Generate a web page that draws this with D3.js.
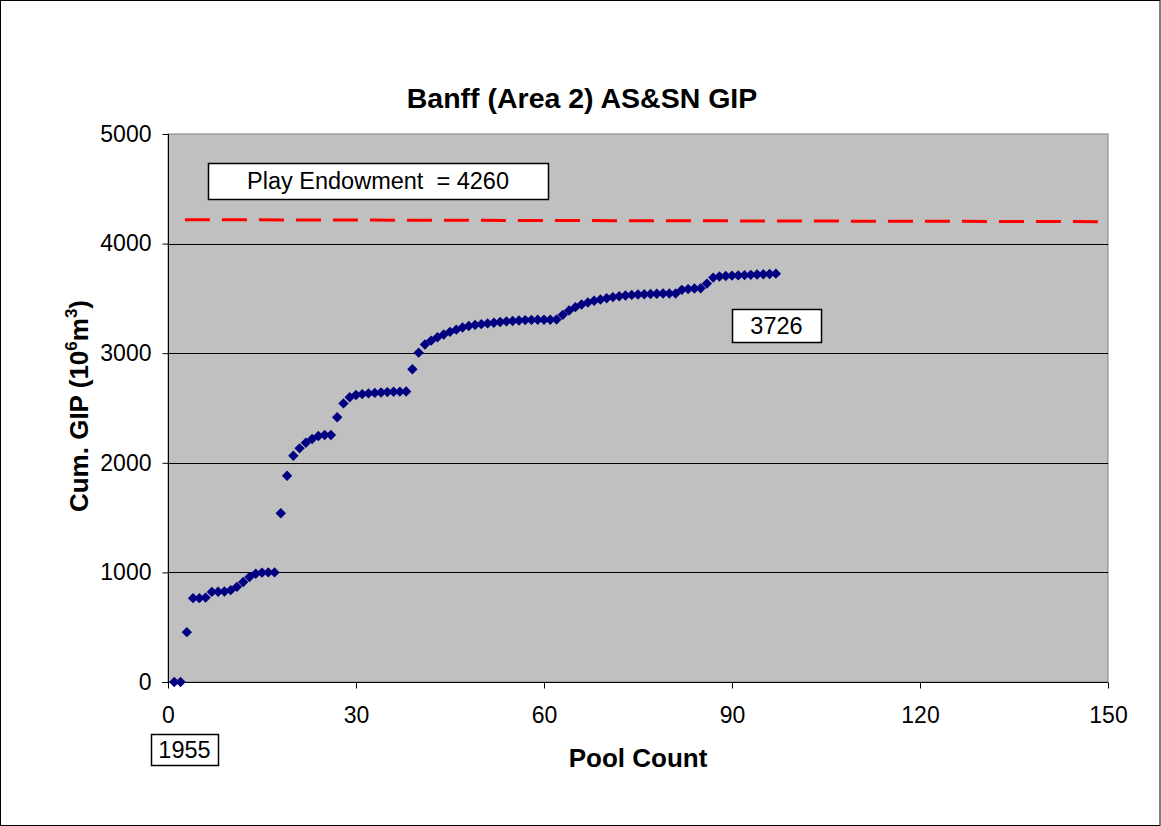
<!DOCTYPE html>
<html>
<head>
<meta charset="utf-8">
<script src="https://cdn.jsdelivr.net/npm/d3@7"></script>
<style>
  html, body { margin: 0; padding: 0; background: #fff; }
  svg text { font-family: "Liberation Sans", Arial, sans-serif; fill: #000; }
</style>
</head>
<body>
<div id="chart"></div>
<script>
const POOLS = d3.range(1, 98)
const CUM_GIP = [
  0, 0, 455, 765, 765, 770, 822, 824, 826, 838,
  868, 912, 958, 988, 998, 1000, 1000, 1540, 1882, 2064,
  2132, 2183, 2217, 2244, 2254, 2254, 2415, 2542, 2598, 2618,
  2627, 2633, 2638, 2642, 2645, 2648, 2649, 2650, 2853, 3005,
  3080, 3115, 3145, 3170, 3195, 3215, 3235, 3248, 3258, 3265,
  3272, 3278, 3284, 3290, 3294, 3298, 3302, 3304, 3305, 3305,
  3305, 3308, 3350, 3390, 3420, 3445, 3462, 3478, 3490, 3502,
  3512, 3520, 3527, 3532, 3536, 3538, 3540, 3542, 3545, 3545,
  3545, 3578, 3585, 3590, 3592, 3635, 3690, 3700, 3705, 3708,
  3710, 3712, 3715, 3718, 3720, 3723, 3726
]
const ENDOWMENT_X = [2.7, 149.5]
const ENDOWMENT_Y = [4218, 4200]
const X_TICKS = [0, 30, 60, 90, 120, 150]
const Y_TICKS = [0, 1000, 2000, 3000, 4000, 5000]

const W = 1161, H = 826
const plotLeft = 168, plotRight = 1108, plotTop = 134, plotBottom = 682

const svg = d3.select('#chart').append('svg')
  .attr('width', W).attr('height', H)

svg.append('rect')
  .attr('x', 0.5).attr('y', 0.5).attr('width', W - 1.5).attr('height', H - 1)
  .attr('fill', '#fff').attr('stroke', '#000')

const x = d3.scaleLinear().domain([0, 150]).range([plotLeft, plotRight])
const y = d3.scaleLinear().domain([0, 5000]).range([plotBottom, plotTop])

// plot area
svg.append('rect')
  .attr('x', plotLeft).attr('y', plotTop)
  .attr('width', plotRight - plotLeft).attr('height', plotBottom - plotTop)
  .attr('fill', '#c0c0c0').attr('stroke', '#808080')

// gridlines
svg.append('g')
  .selectAll('line')
  .data(Y_TICKS.filter((d) => d > 0 && d < 5000))
  .join('line')
  .attr('x1', plotLeft).attr('x2', plotRight)
  .attr('y1', (d) => Math.round(y(d)) + 0.5).attr('y2', (d) => Math.round(y(d)) + 0.5)
  .attr('stroke', '#000')

// axes
const yAxis = svg.append('g')
  .attr('transform', `translate(${plotLeft + 0.5},0)`)
  .call(d3.axisLeft(y).tickValues(Y_TICKS).tickSize(6).tickPadding(11).tickFormat(d3.format('d')))
const xAxis = svg.append('g')
  .attr('transform', `translate(0,${plotBottom + 0.5})`)
  .call(d3.axisBottom(x).tickValues(X_TICKS).tickSize(6).tickPadding(18).tickSizeOuter(0))
yAxis.select('.domain').attr('d', `M0,${plotTop}V${plotBottom}`).attr('stroke', '#000')
xAxis.select('.domain').attr('d', `M${plotLeft - 6},0H${plotRight}`).attr('stroke', '#000')
for (const g of [xAxis, yAxis]) {
  g.selectAll('text').style('font-size', '23px').attr('fill', '#000')
  g.selectAll('.tick line').attr('stroke', '#000')
}

// endowment dashed line
svg.append('line')
  .attr('x1', x(ENDOWMENT_X[0])).attr('y1', y(ENDOWMENT_Y[0]))
  .attr('x2', x(ENDOWMENT_X[1])).attr('y2', y(ENDOWMENT_Y[1]))
  .attr('stroke', '#ff0000').attr('stroke-width', 3)
  .attr('stroke-dasharray', '25 12')

// points
const r = 5.2
svg.append('g')
  .selectAll('path')
  .data(POOLS.map((p, i) => [p, CUM_GIP[i]]))
  .join('path')
  .attr('d', (d) => {
    const cx = x(d[0]), cy = y(d[1])
    return `M${cx},${cy - r}L${cx + r},${cy}L${cx},${cy + r}L${cx - r},${cy}Z`
  })
  .attr('fill', '#000080')

// label boxes
function box(x0, y0, w, h, label) {
  svg.append('rect')
    .attr('x', x0 + 0.5).attr('y', y0 + 0.5).attr('width', w).attr('height', h)
    .attr('fill', '#fff').attr('stroke', '#000').attr('stroke-width', 1.5)
  svg.append('text')
    .attr('x', x0 + w / 2).attr('y', y0 + h / 2 + 8)
    .attr('text-anchor', 'middle').style('font-size', '23.5px')
    .style('white-space', 'pre')
    .text(label)
}
box(208, 163, 340, 36, 'Play Endowment  = 4260')
box(732, 309, 89, 33, '3726')
box(151, 734, 67, 31, '1955')

// titles
svg.append('text')
  .attr('x', 582).attr('y', 108).attr('text-anchor', 'middle')
  .style('font-size', '28.5px').style('font-weight', 'bold')
  .text('Banff (Area 2) AS&SN GIP')

svg.append('text')
  .attr('x', 638).attr('y', 767).attr('text-anchor', 'middle')
  .style('font-size', '26px').style('font-weight', 'bold')
  .text('Pool Count')

const yl = svg.append('text')
  .attr('transform', 'translate(88,406) rotate(-90)')
  .attr('text-anchor', 'middle')
  .style('font-size', '26px').style('font-weight', 'bold')
yl.append('tspan').text('Cum. GIP (10')
yl.append('tspan').attr('dy', -11).style('font-size', '17px').text('6')
yl.append('tspan').attr('dy', 11).text('m')
yl.append('tspan').attr('dy', -11).style('font-size', '17px').text('3')
yl.append('tspan').attr('dy', 11).text(')')
</script>
</body>
</html>
